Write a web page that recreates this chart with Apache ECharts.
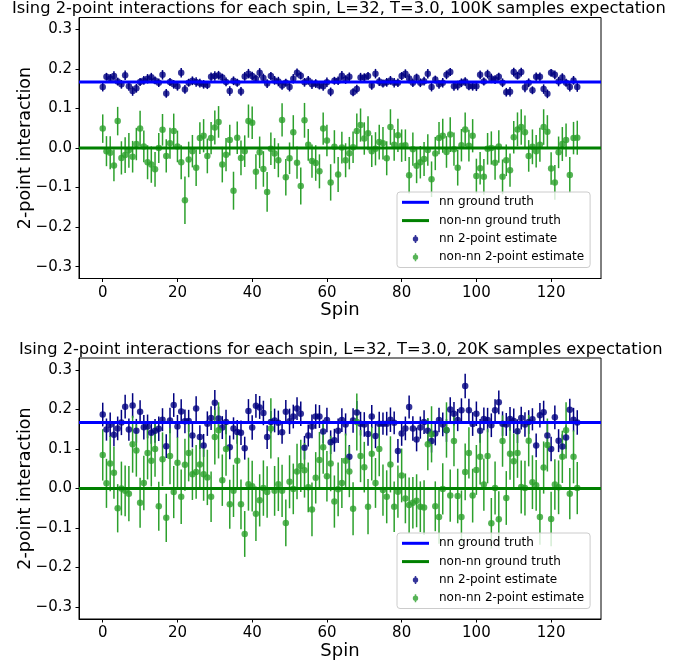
<!DOCTYPE html>
<html>
<head>
<meta charset="utf-8">
<script src="https://cdn.jsdelivr.net/npm/echarts@6/dist/echarts.min.js"></script>
<style>
  html, body { margin: 0; padding: 0; background: #fff; }
  #chart { width: 688px; height: 662px; }
</style>
</head>
<body>
<div id="chart"></div>
<script>
// spin index 0..127
const spins = Array.from({ length: 128 }, (_, i) => i)
const xTicks = [0, 20, 40, 60, 80, 100, 120]
const yTicks = [-0.3, -0.2, -0.1, 0, 0.1, 0.2, 0.3]
const titles = [
  'Ising 2-point interactions for each spin, L=32, T=3.0, 100K samples expectation',
  'Ising 2-point interactions for each spin, L=32, T=3.0, 20K samples expectation'
]
const nnTruth = 0.167
const nonTruth = 0

// 100K samples
const topNN = [
  0.154, 0.180, 0.176, 0.182, 0.168, 0.161, 0.184, 0.156, 0.144, 0.151,
  0.167, 0.171, 0.175, 0.179, 0.171, 0.165, 0.185, 0.138, 0.167, 0.161,
  0.156, 0.190, 0.148, 0.165, 0.170, 0.167, 0.164, 0.161, 0.159, 0.180,
  0.182, 0.184, 0.178, 0.167, 0.144, 0.170, 0.165, 0.143, 0.181, 0.188,
  0.182, 0.175, 0.190, 0.177, 0.163, 0.182, 0.171, 0.168, 0.158, 0.165,
  0.154, 0.175, 0.190, 0.183, 0.166, 0.171, 0.161, 0.163, 0.158, 0.156,
  0.166, 0.142, 0.170, 0.170, 0.183, 0.173, 0.180, 0.141, 0.149, 0.178,
  0.178, 0.182, 0.158, 0.188, 0.168, 0.163, 0.166, 0.171, 0.165, 0.165,
  0.182, 0.188, 0.176, 0.165, 0.178, 0.165, 0.169, 0.188, 0.154, 0.173,
  0.161, 0.165, 0.185, 0.192, 0.156, 0.158, 0.165, 0.168, 0.156, 0.156,
  0.156, 0.185, 0.168, 0.187, 0.176, 0.173, 0.180, 0.165, 0.141, 0.142,
  0.192, 0.183, 0.192, 0.153, 0.165, 0.146, 0.180, 0.180, 0.149, 0.137,
  0.190, 0.185, 0.168, 0.178, 0.165, 0.154, 0.171, 0.154
]
const topNNErr = [
  0.011, 0.010, 0.011, 0.012, 0.010, 0.011, 0.012, 0.011, 0.012, 0.011,
  0.010, 0.011, 0.012, 0.011, 0.010, 0.011, 0.012, 0.011, 0.010, 0.011,
  0.011, 0.012, 0.011, 0.010, 0.011, 0.012, 0.011, 0.011, 0.010, 0.011,
  0.012, 0.011, 0.010, 0.011, 0.012, 0.011, 0.010, 0.011, 0.011, 0.012,
  0.011, 0.010, 0.012, 0.011, 0.011, 0.010, 0.011, 0.012, 0.011, 0.010,
  0.011, 0.012, 0.011, 0.010, 0.011, 0.011, 0.012, 0.011, 0.010, 0.011,
  0.012, 0.011, 0.010, 0.011, 0.012, 0.011, 0.011, 0.010, 0.011, 0.012,
  0.011, 0.010, 0.011, 0.012, 0.011, 0.010, 0.011, 0.011, 0.012, 0.011,
  0.010, 0.011, 0.012, 0.011, 0.010, 0.011, 0.011, 0.012, 0.011, 0.010,
  0.011, 0.012, 0.011, 0.010, 0.011, 0.012, 0.011, 0.011, 0.010, 0.011,
  0.012, 0.011, 0.010, 0.011, 0.012, 0.011, 0.010, 0.011, 0.011, 0.012,
  0.011, 0.010, 0.011, 0.012, 0.011, 0.010, 0.011, 0.011, 0.012, 0.011,
  0.010, 0.011, 0.012, 0.011, 0.010, 0.011, 0.011, 0.012
]
const topNon = [
  0.049, -0.008, -0.012, -0.044, 0.068, -0.025, -0.018, -0.006, -0.022, 0.010,
  0.049, 0.004, -0.036, -0.042, -0.054, 0.000, 0.046, -0.020, 0.012, 0.043,
  0.004, -0.036, -0.132, -0.029, -0.008, -0.050, 0.025, 0.031, -0.020, 0.025,
  0.052, 0.066, -0.042, -0.017, 0.020, -0.108, 0.026, -0.025, -0.008, 0.068,
  0.064, -0.060, -0.011, -0.053, -0.111, -0.002, -0.014, -0.031, 0.071, -0.074,
  -0.026, 0.040, -0.037, -0.096, 0.070, 0.008, -0.033, -0.038, -0.059, 0.049,
  0.019, -0.087, 0.003, -0.067, 0.001, -0.031, -0.013, 0.002, 0.043, 0.058,
  0.024, 0.037, -0.008, -0.002, 0.015, 0.012, -0.026, 0.053, 0.008, 0.032,
  0.006, 0.007, -0.069, -0.003, -0.045, -0.036, -0.028, -0.005, -0.079, -0.014,
  0.025, 0.031, -0.010, 0.034, -0.003, -0.050, 0.007, 0.047, 0.006, 0.031,
  -0.071, -0.051, -0.073, -0.002, 0.000, -0.037, 0.004, -0.073, -0.031, -0.056,
  0.027, 0.047, 0.053, 0.040, -0.020, 0.003, -0.008, 0.008, 0.053, 0.041,
  -0.052, -0.087, -0.011, 0.010, 0.020, -0.068, 0.025, 0.026
]
const topNonErr = [
  0.036, 0.038, 0.042, 0.040, 0.036, 0.042, 0.045, 0.044, 0.040, 0.041,
  0.045, 0.040, 0.043, 0.046, 0.044, 0.038, 0.040, 0.042, 0.039, 0.044,
  0.040, 0.043, 0.060, 0.045, 0.041, 0.046, 0.040, 0.042, 0.044, 0.041,
  0.043, 0.040, 0.045, 0.042, 0.039, 0.048, 0.041, 0.044, 0.040, 0.042,
  0.041, 0.044, 0.040, 0.045, 0.050, 0.041, 0.039, 0.043, 0.042, 0.046,
  0.040, 0.043, 0.041, 0.047, 0.044, 0.040, 0.042, 0.045, 0.043, 0.041,
  0.040, 0.046, 0.042, 0.044, 0.040, 0.043, 0.041, 0.040, 0.044, 0.042,
  0.041, 0.043, 0.040, 0.042, 0.044, 0.041, 0.043, 0.045, 0.040, 0.042,
  0.041, 0.040, 0.046, 0.042, 0.044, 0.041, 0.043, 0.040, 0.045, 0.042,
  0.041, 0.043, 0.040, 0.044, 0.042, 0.045, 0.041, 0.043, 0.040, 0.042,
  0.044, 0.041, 0.045, 0.040, 0.042, 0.043, 0.041, 0.044, 0.040, 0.042,
  0.041, 0.043, 0.045, 0.042, 0.040, 0.044, 0.041, 0.043, 0.045, 0.042,
  0.041, 0.044, 0.040, 0.043, 0.042, 0.045, 0.041, 0.043
]

// 20K samples
const botNN = [
  0.187, 0.149, 0.161, 0.136, 0.152, 0.167, 0.207, 0.149, 0.210, 0.146,
  0.194, 0.155, 0.157, 0.141, 0.146, 0.151, 0.174, 0.107, 0.172, 0.211,
  0.157, 0.195, 0.170, 0.171, 0.134, 0.202, 0.130, 0.109, 0.164, 0.178,
  0.217, 0.177, 0.154, 0.168, 0.104, 0.152, 0.143, 0.141, 0.102, 0.196,
  0.154, 0.209, 0.205, 0.191, 0.130, 0.168, 0.172, 0.166, 0.142, 0.194,
  0.170, 0.182, 0.202, 0.189, 0.103, 0.134, 0.157, 0.182, 0.182, 0.144,
  0.173, 0.117, 0.122, 0.146, 0.173, 0.162, 0.080, 0.172, 0.192, 0.164,
  0.162, 0.138, 0.182, 0.133, 0.164, 0.164, 0.164, 0.174, 0.166, 0.095,
  0.139, 0.152, 0.206, 0.152, 0.124, 0.154, 0.168, 0.146, 0.120, 0.139,
  0.173, 0.162, 0.147, 0.200, 0.189, 0.173, 0.198, 0.259, 0.198, 0.163,
  0.189, 0.146, 0.176, 0.173, 0.160, 0.198, 0.218, 0.164, 0.162, 0.176,
  0.171, 0.145, 0.178, 0.162, 0.168, 0.175, 0.109, 0.185, 0.193, 0.134,
  0.100, 0.180, 0.121, 0.106, 0.129, 0.199, 0.174, 0.167
]
const botNNErr = [
  0.030, 0.028, 0.031, 0.029, 0.030, 0.032, 0.030, 0.028, 0.031, 0.030,
  0.029, 0.031, 0.030, 0.028, 0.030, 0.031, 0.029, 0.030, 0.032, 0.030,
  0.029, 0.031, 0.030, 0.028, 0.030, 0.031, 0.030, 0.029, 0.031, 0.030,
  0.032, 0.030, 0.029, 0.031, 0.030, 0.028, 0.030, 0.031, 0.029, 0.030,
  0.031, 0.030, 0.029, 0.031, 0.030, 0.028, 0.030, 0.031, 0.029, 0.030,
  0.032, 0.030, 0.029, 0.031, 0.030, 0.028, 0.030, 0.031, 0.029, 0.030,
  0.031, 0.030, 0.029, 0.031, 0.030, 0.028, 0.030, 0.031, 0.029, 0.030,
  0.031, 0.030, 0.029, 0.031, 0.030, 0.028, 0.030, 0.031, 0.029, 0.030,
  0.031, 0.030, 0.029, 0.031, 0.030, 0.028, 0.030, 0.031, 0.029, 0.030,
  0.031, 0.030, 0.029, 0.031, 0.030, 0.028, 0.030, 0.031, 0.029, 0.030,
  0.031, 0.030, 0.029, 0.031, 0.030, 0.028, 0.030, 0.031, 0.029, 0.030,
  0.031, 0.030, 0.029, 0.031, 0.030, 0.028, 0.030, 0.031, 0.029, 0.030,
  0.031, 0.030, 0.029, 0.031, 0.030, 0.028, 0.030, 0.031
]
const botNon = [
  0.085, 0.013, 0.063, 0.040, -0.050, 0.000, -0.006, -0.013, 0.112, 0.096,
  -0.036, 0.014, 0.090, 0.070, 0.100, -0.045, 0.074, -0.074, 0.082, -0.009,
  0.065, -0.021, 0.060, 0.090, 0.036, 0.042, 0.061, 0.036, 0.028, -0.021,
  0.130, 0.147, 0.021, 0.100, -0.040, -0.006, 0.070, -0.040, -0.115, 0.011,
  0.006, -0.064, -0.030, 0.001, -0.009, 0.152, -0.006, 0.011, -0.006, -0.087,
  0.017, -0.001, 0.043, 0.057, 0.046, 0.003, -0.053, 0.027, 0.072, 0.104,
  0.031, 0.063, -0.033, -0.002, 0.014, 0.070, 0.043, -0.051, 0.168, 0.082,
  0.054, -0.046, 0.088, 0.014, 0.100, -0.004, -0.021, 0.061, -0.046, -0.008,
  0.033, -0.025, -0.042, -0.036, -0.031, -0.046, -0.048, 0.112, 0.137, -0.045,
  -0.072, -0.001, 0.148, -0.018, 0.120, -0.019, -0.072, 0.042, 0.090, -0.018,
  0.047, 0.080, 0.010, 0.082, -0.088, 0.001, -0.078, 0.120, -0.024, 0.088,
  0.069, 0.090, 0.004, 0.001, 0.121, 0.016, 0.008, -0.072, 0.053, 0.110,
  -0.077, 0.010, 0.003, 0.080, 0.147, -0.013, 0.080, 0.001
]
const botNonErr = [
  0.065, 0.062, 0.070, 0.066, 0.061, 0.068, 0.064, 0.070, 0.072, 0.066,
  0.063, 0.069, 0.067, 0.065, 0.070, 0.062, 0.068, 0.061, 0.071, 0.066,
  0.064, 0.069, 0.066, 0.072, 0.065, 0.068, 0.063, 0.067, 0.070, 0.064,
  0.069, 0.071, 0.065, 0.068, 0.062, 0.066, 0.070, 0.063, 0.058, 0.067,
  0.064, 0.069, 0.066, 0.070, 0.065, 0.076, 0.063, 0.068, 0.066, 0.059,
  0.067, 0.064, 0.070, 0.066, 0.069, 0.063, 0.068, 0.065, 0.071, 0.067,
  0.064, 0.070, 0.066, 0.068, 0.063, 0.069, 0.065, 0.067, 0.072, 0.066,
  0.064, 0.070, 0.068, 0.063, 0.069, 0.065, 0.067, 0.071, 0.064, 0.066,
  0.068, 0.063, 0.070, 0.065, 0.067, 0.064, 0.069, 0.066, 0.071, 0.063,
  0.068, 0.065, 0.070, 0.066, 0.064, 0.069, 0.067, 0.072, 0.065, 0.068,
  0.063, 0.070, 0.066, 0.069, 0.064, 0.067, 0.071, 0.065, 0.068, 0.066,
  0.070, 0.063, 0.067, 0.069, 0.065, 0.068, 0.064, 0.070, 0.066, 0.067,
  0.069, 0.064, 0.068, 0.066, 0.071, 0.065, 0.067, 0.066
]

const xMin = -6.35
const xMax = 133.35
const font = 'DejaVu Sans'
const nnColor = '#000080'
const nonColor = '#2ca02c'
const names = ['nn ground truth', 'non-nn ground truth', 'nn 2-point estimate', 'non-nn 2-point estimate']

const lineIcon = 'path://M0,0 M32,12 M0,4.5 L27,4.5 L27,7.5 L0,7.5 Z'
const errIcon = 'path://M0,0 M32,12 M12.75,2 L14.25,2 L14.25,10 L12.75,10 Z M10.8,6 A2.7,2.7 0 1 1 16.2,6 A2.7,2.7 0 1 1 10.8,6 Z'

const gridTops = [17.5, 358]
const gridH = 261

function renderErr(params, api) {
  const x = api.value(0)
  const y = api.value(1)
  const e = api.value(2)
  const lo = api.coord([x, y - e])
  const hi = api.coord([x, y + e])
  return {
    type: 'line',
    shape: { x1: lo[0], y1: lo[1], x2: hi[0], y2: hi[1] },
    style: { stroke: api.visual('color'), lineWidth: 1.5 }
  }
}

function panelSeries(g, nn, nnErr, non, nonErr) {
  return [
    {
      name: names[0], type: 'line', xAxisIndex: g, yAxisIndex: g,
      data: [[xMin, nnTruth], [xMax, nnTruth]], symbol: 'none', color: '#0000ff',
      lineStyle: { width: 3, color: '#0000ff' }, silent: true
    },
    {
      name: names[1], type: 'line', xAxisIndex: g, yAxisIndex: g,
      data: [[xMin, nonTruth], [xMax, nonTruth]], symbol: 'none', color: '#008000',
      lineStyle: { width: 3, color: '#008000' }, silent: true
    },
    {
      name: 'nn err', type: 'custom', xAxisIndex: g, yAxisIndex: g, color: nnColor,
      renderItem: renderErr, encode: { x: 0, y: 1 },
      data: spins.map(i => [i, nn[i], nnErr[i]])
    },
    {
      name: names[2], type: 'scatter', xAxisIndex: g, yAxisIndex: g, color: nnColor,
      symbolSize: 6.5, data: spins.map(i => [i, nn[i]])
    },
    {
      name: 'non err', type: 'custom', xAxisIndex: g, yAxisIndex: g, color: nonColor,
      renderItem: renderErr, encode: { x: 0, y: 1 },
      data: spins.map(i => [i, non[i], nonErr[i]])
    },
    {
      name: names[3], type: 'scatter', xAxisIndex: g, yAxisIndex: g, color: nonColor,
      symbolSize: 6.5, data: spins.map(i => [i, non[i]])
    }
  ]
}

function xAxis(g) {
  return {
    type: 'value', gridIndex: g, min: xMin, max: xMax,
    name: 'Spin', nameLocation: 'middle', nameGap: 22,
    nameTextStyle: { fontFamily: font, fontSize: 18, color: '#000' },
    axisLine: { onZero: false, lineStyle: { color: '#000', width: 1 } },
    axisTick: { show: true, length: 3.5, customValues: xTicks, lineStyle: { color: '#000' } },
    axisLabel: { customValues: xTicks, margin: 7, fontFamily: font, fontSize: 15, color: '#000' },
    splitLine: { show: false }
  }
}

function yAxis(g) {
  return {
    type: 'value', gridIndex: g, min: -0.33, max: 0.33,
    name: '2-point interaction', nameLocation: 'middle', nameGap: 45, nameRotate: 90,
    nameMoveOverlap: false,
    nameTextStyle: { fontFamily: font, fontSize: 17.5, color: '#000' },
    axisLine: { onZero: false, lineStyle: { color: '#000', width: 1 } },
    axisTick: { show: true, length: 3.5, customValues: yTicks, lineStyle: { color: '#000' } },
    axisLabel: {
      customValues: yTicks, margin: 7, fontFamily: font, fontSize: 15, color: '#000',
      formatter: v => (v < -1e-9 ? '\u2212' : '') + Math.abs(v).toFixed(1)
    },
    splitLine: { show: false }
  }
}

function legend(top) {
  return {
    left: 397, top: top, orient: 'vertical', selectedMode: false, z: 10,
    itemWidth: 32, itemHeight: 12, itemGap: 6.3, padding: [4.3, 6, 4.3, 5],
    backgroundColor: 'rgba(255,255,255,0.8)', borderColor: '#cccccc', borderWidth: 1, borderRadius: 3,
    textStyle: { fontFamily: font, fontSize: 12, color: '#000', lineHeight: 12 },
    data: [
      { name: names[0], icon: lineIcon },
      { name: names[1], icon: lineIcon },
      { name: names[2], icon: errIcon },
      { name: names[3], icon: errIcon }
    ]
  }
}

const chart = echarts.init(document.getElementById('chart'), null, { renderer: 'canvas' })
chart.setOption({
  animation: false,
  backgroundColor: '#fff',
  title: [
    { text: titles[0], left: 12, top: 1, padding: 0,
      textStyle: { fontFamily: font, fontSize: 16.3, fontWeight: 'normal', color: '#000' } },
    { text: titles[1], left: 19, top: 342, padding: 0,
      textStyle: { fontFamily: font, fontSize: 16.3, fontWeight: 'normal', color: '#000' } }
  ],
  legend: [legend(192), legend(533)],
  grid: gridTops.map(t => ({
    left: 79, top: t, width: 522, height: gridH, show: true,
    borderColor: '#000', borderWidth: 1, backgroundColor: 'transparent'
  })),
  xAxis: [xAxis(0), xAxis(1)],
  yAxis: [yAxis(0), yAxis(1)],
  series: [
    ...panelSeries(0, topNN, topNNErr, topNon, topNonErr),
    ...panelSeries(1, botNN, botNNErr, botNon, botNonErr)
  ]
})
</script>
</body>
</html>
